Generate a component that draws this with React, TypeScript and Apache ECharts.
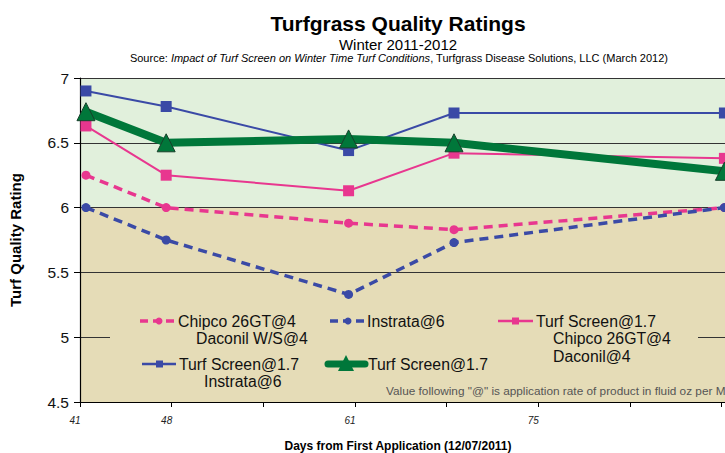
import React, { useEffect, useRef } from "react";
import * as echarts from "echarts";

// x positions of the five rating dates, in units of the axis tick spacing
const xPositions = [0.065, 0.94, 2.93, 4.08, 7.03];
const xTickLabels = ["41", "48", "", "61", "", "75", "", ""];
const yTicks = [4.5, 5, 5.5, 6, 6.5, 7];

const chipcoDaconilWS = [6.25, 6.0, 5.88, 5.83, 6.0];
const instrata = [6.0, 5.75, 5.33, 5.73, 6.0];
const tsChipcoDaconil = [6.63, 6.25, 6.13, 6.42, 6.38];
const tsInstrata = [6.9, 6.78, 6.44, 6.73, 6.73];
const turfScreen = [6.74, 6.5, 6.53, 6.5, 6.28];

const PINK = "#e8378f";
const BLUE = "#3a4aa6";
const GREEN = "#00773a";
const BG_GREEN = "#e1f0dc";
const BG_TAN = "#e5dcb7";
const FONT = "Liberation Sans, Arial, sans-serif";

const pts = (vals: number[]) => vals.map((v, i) => [xPositions[i], v]);

export default function App() {
  const ref = useRef<HTMLDivElement>(null);
  useEffect(() => {
    if (!ref.current) return;
    const chart = echarts.init(ref.current, undefined, { renderer: "svg" });
    const legendText = (x: number, y: number, text: string) => ({
      type: "text",
      x,
      y,
      z: 10,
      style: { text, fontSize: 15.8, fontFamily: FONT, fill: "#111", align: "left", verticalAlign: "middle" },
    });
    const option: any = {
      animation: false,
      backgroundColor: "#ffffff",
      grid: { left: 74, top: 78, width: 693.5, height: 324, containLabel: false },
      xAxis: {
        type: "value",
        min: 0,
        max: 7.5,
        interval: 1,
        z: 2,
        axisLine: { show: true, lineStyle: { color: "#000", width: 1.2 } },
        axisTick: { show: true, length: 5, lineStyle: { color: "#000" } },
        splitLine: { show: false },
        axisLabel: {
          margin: 13,
          fontSize: 10,
          fontStyle: "italic",
          fontFamily: FONT,
          color: "#222",
          padding: [0, 10, 0, 0],
          formatter: (v: number) => {
            const i = Math.round(v);
            return Math.abs(v - i) < 1e-6 && xTickLabels[i] !== undefined ? xTickLabels[i] : "";
          },
        },
      },
      yAxis: {
        type: "value",
        min: yTicks[0],
        max: yTicks[yTicks.length - 1],
        interval: 0.5,
        z: 2,
        name: "Turf Quality Rating",
        nameLocation: "middle",
        nameGap: 57,
        nameTextStyle: { fontSize: 15, fontWeight: "bold", fontFamily: FONT, color: "#000" },
        axisLine: { show: true, lineStyle: { color: "#000", width: 1.2 } },
        axisTick: { show: true, length: 6, lineStyle: { color: "#000" } },
        splitLine: { show: true, lineStyle: { color: "#333", width: 1 } },
        axisLabel: { margin: 11, fontSize: 15.5, fontFamily: FONT, color: "#111" },
      },
      series: [
        {
          name: "Chipco 26GT@4 Daconil W/S@4",
          type: "line",
          data: pts(chipcoDaconilWS),
          symbol: "circle",
          symbolSize: 9,
          itemStyle: { color: PINK },
          lineStyle: { color: PINK, width: 3.5, type: [9, 6] },
          markArea: {
            silent: true,
            z: -1,
            itemStyle: { opacity: 1 },
            data: [
              [{ yAxis: 6, itemStyle: { color: BG_GREEN } }, { yAxis: 7 }],
              [{ yAxis: 4.5, itemStyle: { color: BG_TAN } }, { yAxis: 6 }],
            ],
          },
          z: 5,
        },
        {
          name: "Instrata@6",
          type: "line",
          data: pts(instrata),
          symbol: "circle",
          symbolSize: 9,
          itemStyle: { color: BLUE },
          lineStyle: { color: BLUE, width: 3.5, type: [9, 6] },
          z: 5,
        },
        {
          name: "Turf Screen@1.7 Chipco 26GT@4 Daconil@4",
          type: "line",
          data: pts(tsChipcoDaconil),
          symbol: "rect",
          symbolSize: 11,
          itemStyle: { color: PINK },
          lineStyle: { color: PINK, width: 2 },
          z: 5,
        },
        {
          name: "Turf Screen@1.7 Instrata@6",
          type: "line",
          data: pts(tsInstrata),
          symbol: "rect",
          symbolSize: 11,
          itemStyle: { color: BLUE },
          lineStyle: { color: BLUE, width: 2 },
          z: 5,
        },
        {
          name: "Turf Screen@1.7",
          type: "line",
          data: pts(turfScreen),
          symbol: "triangle",
          symbolSize: 18,
          itemStyle: { color: GREEN, borderColor: "#17402a", borderWidth: 1 },
          lineStyle: { color: GREEN, width: 8 },
          z: 6,
        },
      ],
      graphic: [
        {
          type: "text",
          x: 398,
          y: 23,
          style: { text: "Turfgrass Quality Ratings", fontSize: 21, fontWeight: "bold", fontFamily: FONT, fill: "#000", align: "center", verticalAlign: "middle" },
        },
        {
          type: "text",
          x: 398,
          y: 44,
          style: { text: "Winter 2011-2012", fontSize: 15, fontFamily: FONT, fill: "#000", align: "center", verticalAlign: "middle" },
        },
        {
          type: "text",
          x: 399,
          y: 58,
          style: {
            text: "{n|Source: }{i|Impact of Turf Screen on Winter Time Turf Conditions}{n|, Turfgrass Disease Solutions, LLC (March 2012)}",
            align: "center",
            verticalAlign: "middle",
            rich: {
              n: { fontSize: 11, fontFamily: FONT, fill: "#000" },
              i: { fontSize: 11, fontFamily: FONT, fontStyle: "italic", fill: "#000" },
            },
          },
        },
        {
          type: "text",
          x: 398,
          y: 446,
          style: { text: "Days from First Application (12/07/2011)", fontSize: 12, fontWeight: "bold", fontFamily: FONT, fill: "#000", align: "center", verticalAlign: "middle" },
        },
        // legend box covering grid lines
        { type: "rect", z: 3, shape: { x: 110, y: 302, width: 588, height: 99 }, style: { fill: BG_TAN } },
        // legend icons
        { type: "line", z: 10, shape: { x1: 140, y1: 321, x2: 176, y2: 321 }, style: { stroke: PINK, lineWidth: 3.5, lineDash: [8, 5] } },
        { type: "circle", z: 10, shape: { cx: 159, cy: 321, r: 3.5 }, style: { fill: PINK } },
        { type: "line", z: 10, shape: { x1: 330, y1: 321, x2: 366, y2: 321 }, style: { stroke: BLUE, lineWidth: 3.5, lineDash: [8, 5] } },
        { type: "circle", z: 10, shape: { cx: 348, cy: 321, r: 3.5 }, style: { fill: BLUE } },
        { type: "line", z: 10, shape: { x1: 498, y1: 321, x2: 533, y2: 321 }, style: { stroke: PINK, lineWidth: 2.5 } },
        { type: "rect", z: 10, shape: { x: 512, y: 317.5, width: 7, height: 7 }, style: { fill: PINK } },
        { type: "line", z: 10, shape: { x1: 142, y1: 364, x2: 176, y2: 364 }, style: { stroke: BLUE, lineWidth: 2.5 } },
        { type: "rect", z: 10, shape: { x: 156, y: 360.5, width: 7, height: 7 }, style: { fill: BLUE } },
        { type: "line", z: 10, shape: { x1: 328, y1: 364, x2: 365, y2: 364 }, style: { stroke: GREEN, lineWidth: 7, lineCap: "round" } },
        { type: "polygon", z: 10, shape: { points: [[346, 355], [338, 371], [354, 371]] }, style: { fill: GREEN } },
        // legend labels
        legendText(178, 321, "Chipco 26GT@4"),
        legendText(196, 338, "Daconil W/S@4"),
        legendText(367, 321, "Instrata@6"),
        legendText(536, 321, "Turf Screen@1.7"),
        legendText(553, 338, "Chipco 26GT@4"),
        legendText(553, 356, "Daconil@4"),
        legendText(179, 364, "Turf Screen@1.7"),
        legendText(204, 381, "Instrata@6"),
        legendText(368, 364, "Turf Screen@1.7"),
        {
          type: "text",
          x: 386,
          y: 391,
          z: 10,
          style: { text: 'Value following "@" is application rate of product in fluid oz per M', fontSize: 11.8, fontFamily: FONT, fill: "#555", align: "left", verticalAlign: "middle" },
        },
      ],
    };
    chart.setOption(option);
    return () => chart.dispose();
  }, []);
  return (
    <div style={{ position: "absolute", left: 0, top: 0, width: 725, height: 453, overflow: "hidden" }}>
      <div ref={ref} style={{ width: 800, height: 453 }} />
    </div>
  );
}
